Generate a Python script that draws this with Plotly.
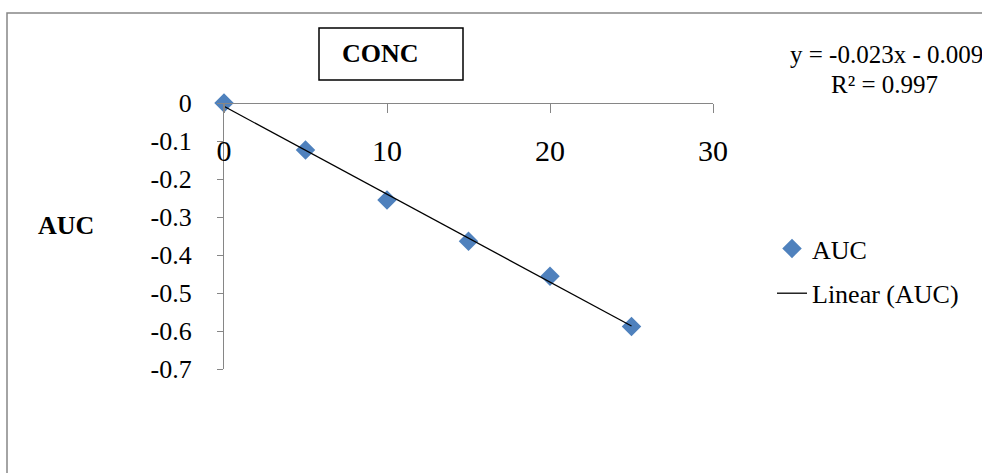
import numpy as np
import plotly.graph_objects as go

# ---- data ----
conc = [0, 5, 10, 15, 20, 25]
auc = [0.0, -0.124, -0.255, -0.364, -0.456, -0.588]

x_tickvals = [0, 10, 20, 30]
x_ticktext = ["0", "10", "20", "30"]
y_tickvals = [0, -0.1, -0.2, -0.3, -0.4, -0.5, -0.6, -0.7]
y_ticktext = ["0", "-0.1", "-0.2", "-0.3", "-0.4", "-0.5", "-0.6", "-0.7"]

eq_line1 = "y = -0.023x - 0.009"
eq_line2 = "R² = 0.997"
box_title = "CONC"
y_title = "AUC"

# linear trendline from the data
slope, intercept = np.polyfit(conc, auc, 1)
trend_x = [min(conc), max(conc)]
trend_y = [slope * v + intercept for v in trend_x]

W, H = 982, 473
FONT = "Liberation Serif"
GRAY = "#868686"


def px(xp):
    return xp / W


def py(yp):
    return 1 - yp / H


fig = go.Figure()
fig.add_trace(go.Scatter(
    x=conc, y=auc, mode="markers", name="AUC",
    marker=dict(symbol="diamond", size=15, color="#4F81BD", line=dict(width=0)),
    cliponaxis=False, legendgroup="a",
))
fig.add_trace(go.Scatter(
    x=trend_x, y=trend_y, mode="lines", name="Linear (AUC)",
    line=dict(color="black", width=1.3),
    cliponaxis=False, legendgroup="b",
))

fig.update_layout(
    width=W, height=H,
    margin=dict(l=0, r=0, t=0, b=0, pad=0, autoexpand=False),
    paper_bgcolor="white", plot_bgcolor="white",
    font=dict(family=FONT, color="black"),
    xaxis=dict(
        domain=[px(224), px(713)], range=[0, 30],
        anchor="free", position=py(103), side="bottom",
        showline=True, linecolor=GRAY, linewidth=1.3,
        ticks="outside", ticklen=9, tickcolor=GRAY, tickwidth=1.3,
        tickvals=x_tickvals, ticktext=x_ticktext,
        tickfont=dict(size=30, family=FONT), ticklabelstandoff=12,
        showgrid=False, zeroline=False, automargin=False,
    ),
    yaxis=dict(
        domain=[py(369), py(103)], range=[-0.7, 0],
        anchor="x",
        showline=True, linecolor=GRAY, linewidth=1.3,
        ticks="outside", ticklen=6, tickcolor=GRAY, tickwidth=1.3,
        tickvals=y_tickvals, ticktext=y_ticktext,
        tickfont=dict(size=26, family=FONT), ticklabelstandoff=20,
        showgrid=False, zeroline=False, automargin=False,
    ),
    legend=dict(
        x=px(772), y=py(225), xanchor="left", yanchor="top",
        font=dict(size=26, family=FONT), bgcolor="rgba(0,0,0,0)",
        traceorder="grouped", tracegroupgap=8,
    ),
    showlegend=True,
)

# outer chart border (runs off the right and bottom edges like the reference)
fig.add_shape(type="rect", xref="paper", yref="paper",
              x0=px(7), x1=1.02, y0=-0.02, y1=py(13),
              line=dict(color=GRAY, width=1.5), layer="below")
# CONC title box
fig.add_shape(type="rect", xref="paper", yref="paper",
              x0=px(319), x1=px(463), y0=py(80), y1=py(28),
              line=dict(color="black", width=1.5))

ann_common = dict(xref="paper", yref="paper", showarrow=False,
                  xanchor="center", yanchor="middle")
fig.add_annotation(x=px(380), y=py(54), text="<b>%s</b>" % box_title,
                   font=dict(size=26, family=FONT), **ann_common)
# y-axis title
fig.add_annotation(x=px(66), y=py(225), text="<b>%s</b>" % y_title,
                   font=dict(size=26, family=FONT), **ann_common)
# trendline equation
fig.add_annotation(x=px(886), y=py(55), text=eq_line1,
                   font=dict(size=25, family=FONT), **ann_common)
fig.add_annotation(x=px(884), y=py(84), text=eq_line2,
                   font=dict(size=25, family=FONT), **ann_common)

# remove the default page margin so the figure sits at the window origin
fig.write_html(
    "out.html",
    config={"displayModeBar": False},
    post_script="document.body.style.margin='0px';document.body.style.overflow='hidden';",
)
